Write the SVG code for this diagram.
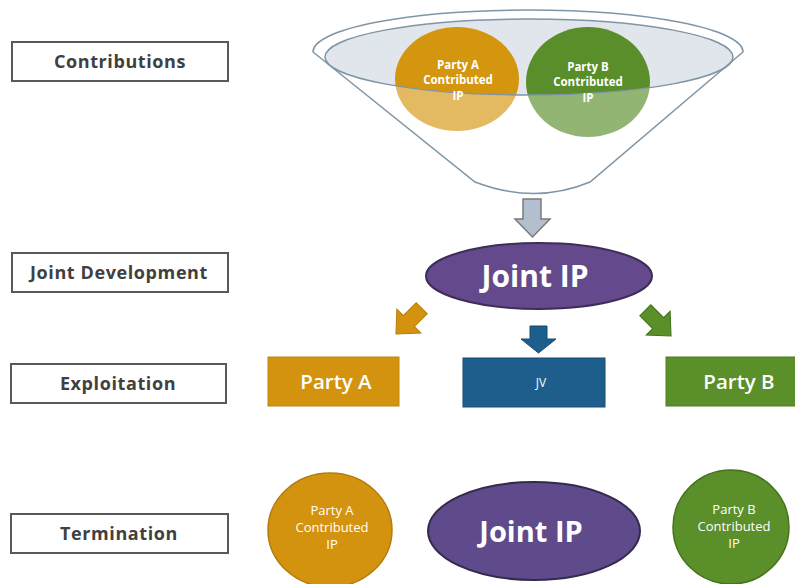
<svg xmlns="http://www.w3.org/2000/svg" width="795" height="584" viewBox="0 0 795 584">
<defs>
<style>
.lbl rect{fill:#fff;stroke:#595959;stroke-width:2}
.lbl text{font-family:"Open Sans","Liberation Sans",sans-serif;font-weight:bold;font-size:18px;letter-spacing:0.6px;fill:#404040;text-anchor:middle}
.w{font-family:"Open Sans","Liberation Sans",sans-serif;fill:#fff;text-anchor:middle}
.fb{stroke:#7f95a6;stroke-width:1.5;fill:none}
</style>
<path id="arr" d="M-6,-16 L6,-16 L6,-2 L13,-2 L0,12 L-13,-2 L-6,-2 Z"/>
</defs>
<rect width="795" height="584" fill="#fff"/>

<g id="label-contributions" class="lbl"><rect x="12" y="42" width="216" height="39"/><text x="120" y="68">Contributions</text></g>
<g id="label-joint-development" class="lbl"><rect x="12" y="253" width="216" height="39"/><text x="119" y="279">Joint Development</text></g>
<g id="label-exploitation" class="lbl"><rect x="11" y="364" width="215" height="39"/><text x="118" y="390">Exploitation</text></g>
<g id="label-termination" class="lbl"><rect x="11" y="514" width="217" height="39"/><text x="119" y="540">Termination</text></g>

<g id="funnel">
<ellipse cx="529" cy="57" rx="204" ry="38" fill="#e1e6ec"/>
<g id="funnel-party-a">
<ellipse cx="457" cy="79" rx="62" ry="52" fill="#d4960f"/>
</g>
<g id="funnel-party-b">
<ellipse cx="588" cy="82" rx="62" ry="55" fill="#5a8e2a"/>
</g>
<path fill="#fff" fill-opacity="0.35" fill-rule="evenodd" d="M313,52 A215,42 0 0 1 743,52 L590,182 Q535,205 475,182 Z M325,57 A204,38 0 0 0 733,57 A204,38 0 0 0 325,57 Z"/>
<path class="fb" d="M313,52 A215,42 0 0 1 743,52 L590,182 Q535,205 475,182 Z"/>
<ellipse class="fb" cx="529" cy="57" rx="204" ry="38"/>
<text class="w" font-weight="bold" font-size="11.5" fill="#fbeec0" x="458" y="69">Party A</text>
<text class="w" font-weight="bold" font-size="11.5" x="458" y="84">Contributed</text>
<text class="w" font-weight="bold" font-size="11.5" x="458" y="100">IP</text>
<text class="w" font-weight="bold" font-size="11.5" x="588" y="71">Party B</text>
<text class="w" font-weight="bold" font-size="11.5" x="588" y="86">Contributed</text>
<text class="w" font-weight="bold" font-size="11.5" x="588" y="102">IP</text>
</g>

<g id="connectors">
<path d="M523,199 L541,199 L541,219 L550,219 L532.5,237 L515,219 L523,219 Z" fill="#b3bfce" stroke="#7a7a7a" stroke-width="1.5"/>
<use href="#arr" transform="translate(407,323) rotate(45) scale(1.3)" fill="#d4930f" stroke="#b47d0c" stroke-width="0.8"/>
<path d="M530,326 L547,326 L547,339 L556,339 L538.5,353 L521,339 L530,339 Z" fill="#1d5e8c" stroke="#164a70" stroke-width="1"/>
<use href="#arr" transform="translate(660,325) rotate(-45) scale(1.3)" fill="#5b8f29" stroke="#46721e" stroke-width="0.8"/>
</g>

<g id="joint-ip-top">
<ellipse cx="539" cy="276" rx="113" ry="33" fill="#644a8c" stroke="#3e2d57" stroke-width="2"/>
<text class="w" font-weight="bold" font-size="30" x="535" y="287">Joint IP</text>
</g>

<g id="party-a-box">
<rect x="268" y="357" width="131" height="49" fill="#d4930f" stroke="#c08510" stroke-width="1"/>
<text class="w" font-weight="600" font-size="20.5" x="336" y="389">Party A</text>
</g>
<g id="jv-box">
<rect x="463" y="358" width="142" height="49" fill="#1d5e8c" stroke="#174d74" stroke-width="1"/>
<text class="w" font-size="12" x="541" y="387">JV</text>
</g>
<g id="party-b-box">
<rect x="666" y="357" width="132" height="49" fill="#5b8f29" stroke="#4d7c22" stroke-width="1"/>
<text class="w" font-weight="600" font-size="20.5" x="739" y="389">Party B</text>
</g>

<g id="party-a-ip">
<ellipse cx="330" cy="530" rx="62" ry="57" fill="#d4930f" stroke="#b37c0e" stroke-width="1.5"/>
<text class="w" font-size="13" fill="#f7e6c4" x="332" y="515">Party A</text>
<text class="w" font-size="13" fill="#f7e6c4" x="332" y="532">Contributed</text>
<text class="w" font-size="13" fill="#f7e6c4" x="332" y="549">IP</text>
</g>
<g id="joint-ip-bottom">
<ellipse cx="534" cy="531" rx="106" ry="49" fill="#5f4a8b" stroke="#332a4d" stroke-width="2"/>
<text class="w" font-weight="bold" font-size="29" x="531" y="542">Joint IP</text>
</g>
<g id="party-b-ip">
<ellipse cx="731" cy="527" rx="58" ry="57" fill="#5b8f29" stroke="#46721e" stroke-width="1.5"/>
<text class="w" font-size="13" fill="#e8f1d6" x="734" y="514">Party B</text>
<text class="w" font-size="13" fill="#e8f1d6" x="734" y="531">Contributed</text>
<text class="w" font-size="13" fill="#e8f1d6" x="734" y="548">IP</text>
</g>
</svg>
